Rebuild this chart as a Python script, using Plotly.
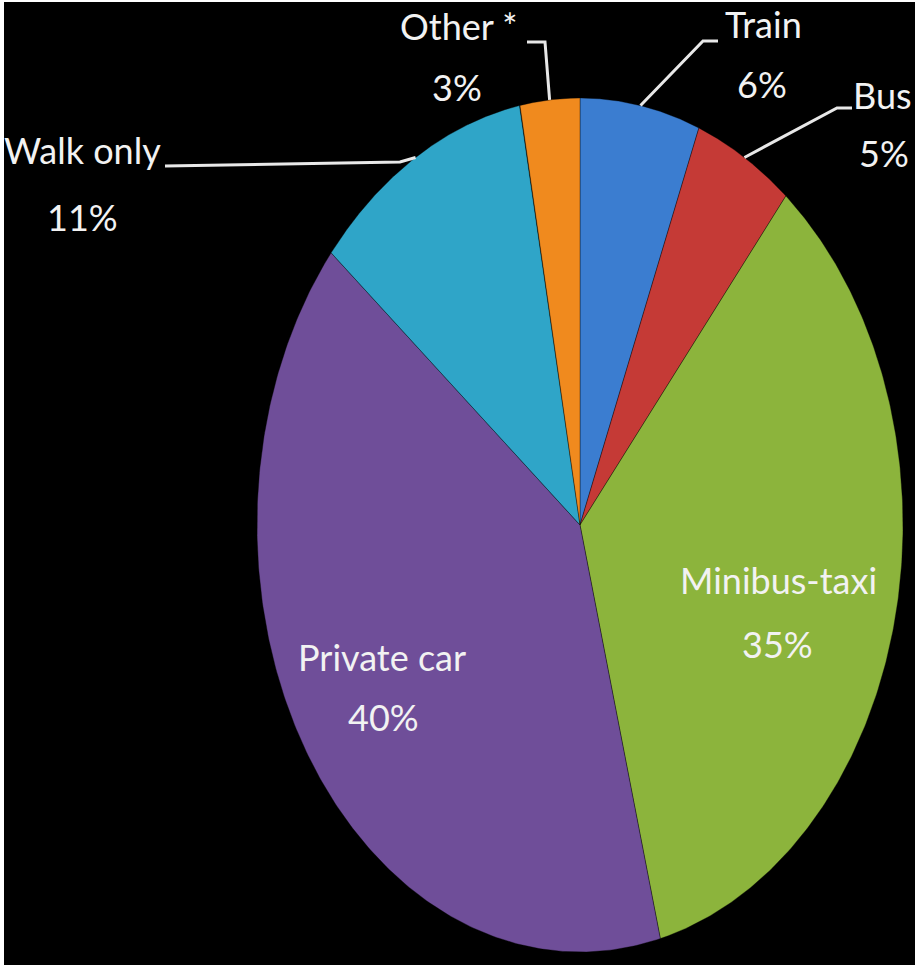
import numpy as np
import plotly.graph_objects as go

# ---- data ----
labels = ["Train", "Bus", "Minibus-taxi", "Private car", "Walk only", "Other *"]
values = [6, 5, 35, 40, 11, 3]
colors = ["#3b7dd0", "#c53a36", "#8cb43c", "#6f4e99", "#2fa5c8", "#f08a1e"]

# ---- geometry (pixel-like coordinate system) ----
CX, CY, RX, RY = 580, 525, 323, 427


def pt(frac):
    th = 2 * np.pi * np.asarray(frac)
    return CX + RX * np.sin(th), CY - RY * np.cos(th)


fig = go.Figure()
total = float(sum(values))
cum = 0.0
mids = {}
for lab, v, c in zip(labels, values, colors):
    f0, f1 = cum / total, (cum + v) / total
    t = np.linspace(f0, f1, 240)
    xs, ys = pt(t)
    x = np.concatenate([[CX], xs, [CX]])
    y = np.concatenate([[CY], ys, [CY]])
    fig.add_trace(go.Scatter(
        x=x, y=y, mode="lines", fill="toself", fillcolor=c,
        line=dict(color="rgba(0,0,0,0.35)", width=1),
        hoverinfo="text", text=f"{lab}: {v}%", showlegend=False))
    mids[lab] = (f0 + f1) / 2
    cum += v

FONT = "Lato, 'Open Sans', sans-serif"
FS = 36

# label placement: name position, percent position, leader elbow (or None for inside)
placement = {
    "Other *": ((459, 26), (457, 87), [(527, 42), (545, 42)]),
    "Train": ((763, 24), (762, 84), [(718, 41), (703, 41)]),
    "Bus": ((882, 95), (884, 153), [(852, 108), (837, 108)]),
    "Walk only": ((82, 150), (82, 217), [(165, 166), (400, 162)]),
    "Minibus-taxi": ((778, 580), (777, 644), None),
    "Private car": ((382, 657), (383, 717), None),
}

shapes = []
annotations = []
for lab, v in zip(labels, values):
    (nx, ny), (px, py), elbow = placement[lab]
    annotations.append(dict(x=nx, y=ny, xref="x", yref="y", text=lab, showarrow=False,
                            font=dict(family=FONT, size=FS, color="#f2f2f2"),
                            xanchor="center", yanchor="middle", borderpad=0))
    annotations.append(dict(x=px, y=py, xref="x", yref="y", text=f"{v}%", showarrow=False,
                            font=dict(family=FONT, size=FS, color="#f2f2f2"),
                            xanchor="center", yanchor="middle", borderpad=0))
    if elbow is not None:
        ax, ay = pt(mids[lab])
        pts = elbow + [(float(ax), float(ay))]
        path = "M " + " L ".join(f"{a},{b}" for a, b in pts)
        shapes.append(dict(type="path", path=path, xref="x", yref="y",
                           line=dict(color="#e8e8e8", width=3)))

fig.update_layout(
    width=915, height=970,
    margin=dict(l=4, r=0, t=2, b=5, pad=0),
    paper_bgcolor="white", plot_bgcolor="black",
    xaxis=dict(range=[4, 915], visible=False, showgrid=False, zeroline=False, fixedrange=True),
    yaxis=dict(range=[965, 2], visible=False, showgrid=False, zeroline=False, fixedrange=True),
    shapes=shapes, annotations=annotations,
    hovermode="closest",
)

fig.write_html("out.html", config={"displayModeBar": False},
               post_script="document.body.style.margin='0';document.body.style.overflow='hidden';")
